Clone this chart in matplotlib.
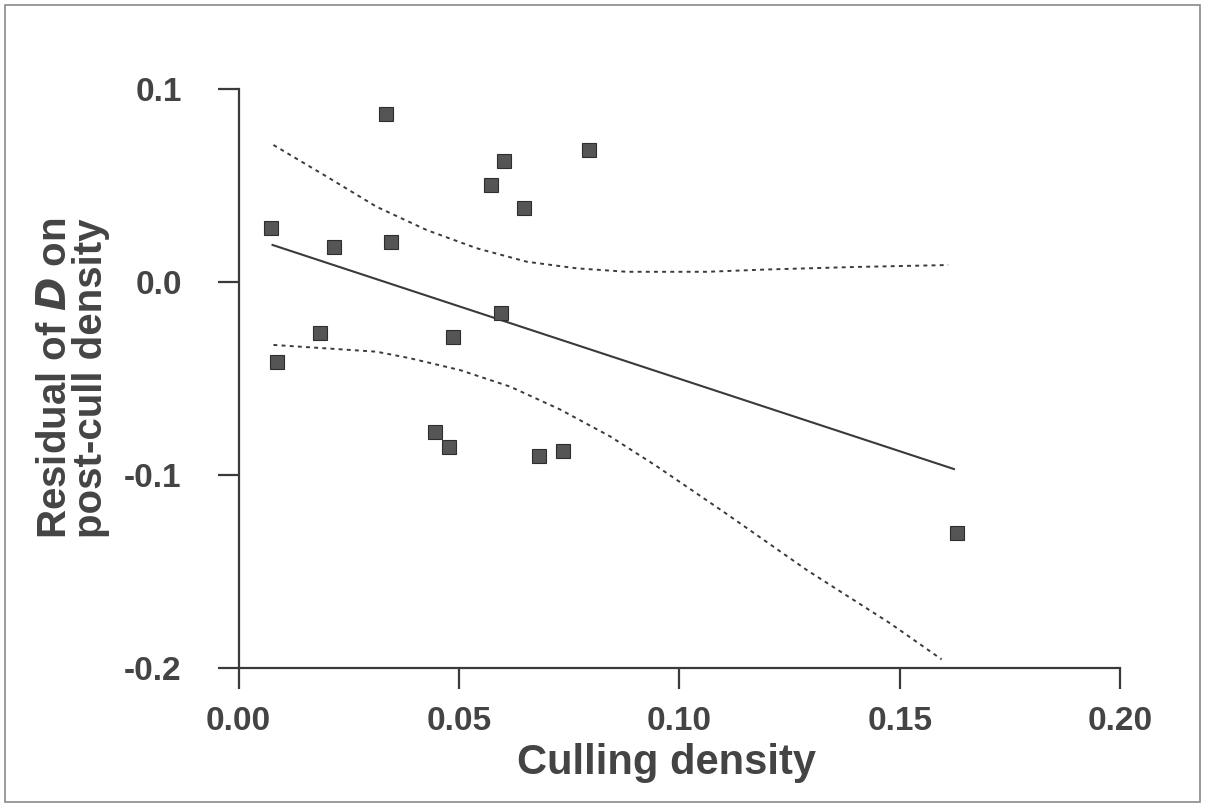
import matplotlib.pyplot as plt
from matplotlib.patches import Rectangle

# Residuals vs culling density
cull_density = [0.0073, 0.0086, 0.0185, 0.0216, 0.0334, 0.0345, 0.0446, 0.0477, 0.0487,
                0.0572, 0.0602, 0.0647, 0.0595, 0.0682, 0.0735, 0.0795, 0.1631]
residual = [0.0278, -0.0415, -0.0263, 0.0180, 0.0869, 0.0206, -0.0779, -0.0853, -0.0283,
            0.0505, 0.0628, 0.0383, -0.0161, -0.0900, -0.0874, 0.0684, -0.1301]

# fitted regression line
fit_x = [0.0077, 0.1623]
fit_y = [0.0192, -0.0969]

# confidence bands
upper_x = [0.0079, 0.0200, 0.0313, 0.0427, 0.0540, 0.0654, 0.0767, 0.0881, 0.1062,
           0.120, 0.140, 0.161]
upper_y = [0.0710, 0.0546, 0.0390, 0.0269, 0.0175, 0.0105, 0.0071, 0.0053, 0.0053,
           0.0065, 0.0078, 0.0088]
lower_x = [0.0079, 0.0200, 0.0313, 0.0389, 0.0502, 0.0616, 0.0729, 0.0843, 0.0949,
           0.1100, 0.1289, 0.1478, 0.1595]
lower_y = [-0.0326, -0.0344, -0.0361, -0.0395, -0.0456, -0.0542, -0.0660, -0.0800, -0.0955,
           -0.1190, -0.1492, -0.1768, -0.1955]

xticks = [0.00, 0.05, 0.10, 0.15, 0.20]
xticklabels = ['0.00', '0.05', '0.10', '0.15', '0.20']
yticks = [-0.2, -0.1, 0.0, 0.1]
yticklabels = ['-0.2', '-0.1', '0.0', '0.1']

plt.rcParams['font.family'] = ['Liberation Sans', 'DejaVu Sans']
ink = '#3a3a3a'
txt = '#444444'

fig = plt.figure(figsize=(12.07, 8.07), dpi=100)
ax = fig.add_axes([0.1977, 0.1722, 0.7303, 0.7175])

ax.plot(upper_x, upper_y, color=ink, lw=1.4, ls=(0, (2, 2.2)))
ax.plot(lower_x, lower_y, color=ink, lw=1.4, ls=(0, (2, 2.2)))
ax.plot(fit_x, fit_y, color=ink, lw=1.5)
ax.plot(cull_density, residual, ls='none', marker='s', markersize=9.5,
        markerfacecolor='#555555', markeredgecolor='#2e2e2e', markeredgewidth=0.8)

ax.set_xlim(0, 0.2)
ax.set_ylim(-0.2, 0.1)
ax.set_xticks(xticks)
ax.set_xticklabels(xticklabels)
ax.set_yticks(yticks)
ax.set_yticklabels(yticklabels)

for s in ['top', 'right']:
    ax.spines[s].set_visible(False)
for s in ['left', 'bottom']:
    ax.spines[s].set_linewidth(1.6)
    ax.spines[s].set_color(ink)

ax.tick_params(axis='both', direction='out', length=15, width=1.6, color=ink,
               labelsize=24, labelcolor=txt)
ax.tick_params(axis='y', pad=26)
ax.tick_params(axis='x', pad=12)
for lab in ax.get_xticklabels() + ax.get_yticklabels():
    lab.set_fontweight('bold')

ax.set_xlabel('Culling density', fontsize=30, fontweight='bold', color=txt)
ax.xaxis.set_label_coords(0.485, -0.13)
ax.set_ylabel('Residual of $\\mathbfit{D}$ on\npost-cull density', fontsize=29,
              fontweight='bold', color=txt, linespacing=0.95, labelpad=10)

# scanned page frame
fig.patches.append(Rectangle((0.004, 0.006), 0.99, 0.988, transform=fig.transFigure,
                             fill=False, edgecolor='#8a8a8a', lw=1.2))

fig.savefig('out.png', dpi=100)
